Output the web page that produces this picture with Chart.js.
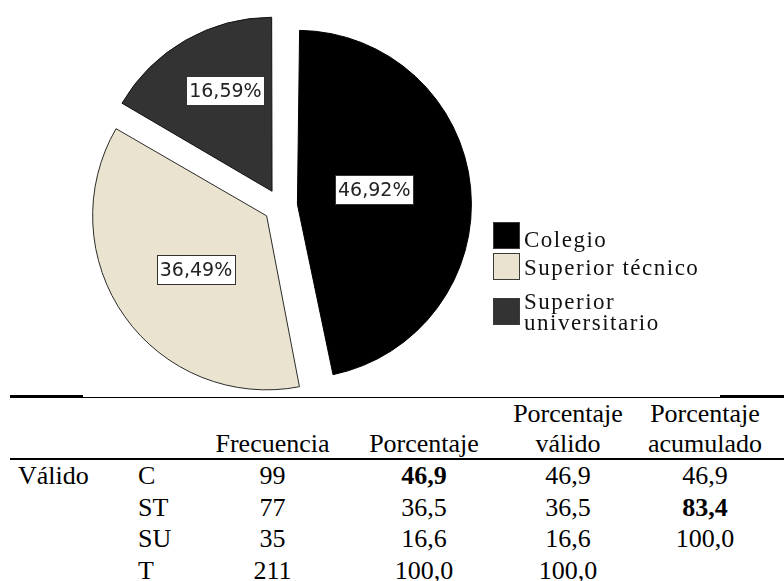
<!DOCTYPE html>
<html><head><meta charset="utf-8">
<script src="https://cdn.jsdelivr.net/npm/chart.js@4/dist/chart.umd.min.js"></script>
<style>
html,body{margin:0;padding:0;background:#fff;overflow:hidden;width:784px;height:581px;}
#wrap{position:relative;width:784px;height:581px;overflow:hidden;background:#fff;}
#pie{position:absolute;left:0;top:0;}
.t{position:absolute;white-space:nowrap;color:#000;}
.leg{color:#111;letter-spacing:1.5px;}
.ln{position:absolute;background:#000;}
.box{position:absolute;box-sizing:border-box;width:27px;height:27px;border:1px solid #3a3a3a;}
</style></head><body><div id="wrap"><canvas id="pie" width="784" height="394"></canvas></div>
<script>
// ---- data ----
const categories = ['Colegio', 'Superior técnico', 'Superior universitario'];
const rowCodes = ['C', 'ST', 'SU', 'T'];
const frequencies = [99, 77, 35, 211];
const pieFrequencies = [99, 77, 35];
const piePercentLabels = [46.92, 36.49, 16.59];
const percent = [46.9, 36.5, 16.6, 100.0];
const validPercent = [46.9, 36.5, 16.6, 100.0];
const cumulativePercent = [46.9, 83.4, 100.0, null];
const headerTop = ['', '', '', 'Porcentaje', 'Porcentaje'];
const headerBottom = ['', 'Frecuencia', 'Porcentaje', 'válido', 'acumulado'];
const groupLabel = 'Válido';

// ---- styles ----
const sliceColors = ['#000000', '#E9E3CF', '#333333'];
const sliceBorders = ['#000000', '#2a2a2a', '#111111'];
const boldCells = {'0-2': true, '1-4': true};
const labelPlace = [{f: 0.45, da: -5.6}, {f: 0.51, da: -1.8}, {f: 0.64, da: 5.1}];

const fmt = (v, d) => v.toFixed(d).replace('.', ',');
const wrap = document.getElementById('wrap');

function place(text, x, baseline, opts) {
  opts = opts || {};
  const fs = opts.fs || 26;
  const asc = opts.asc || 0.891, desc = opts.desc || 0.216;
  const lh = opts.lh || fs;
  const off = (lh - (asc + desc) * fs) / 2 + asc * fs;
  const d = document.createElement('div');
  d.className = 't' + (opts.cls ? ' ' + opts.cls : '');
  d.textContent = text;
  d.style.fontFamily = opts.fam || "'Liberation Serif', 'Times New Roman', serif";
  d.style.fontSize = fs + 'px';
  d.style.fontWeight = opts.bold ? 'bold' : 'normal';
  d.style.lineHeight = lh + 'px';
  d.style.top = (baseline - off) + 'px';
  if (opts.center) { d.style.left = (x - 100) + 'px'; d.style.width = '200px'; d.style.textAlign = 'center'; }
  else d.style.left = x + 'px';
  if (opts.width) { d.style.width = opts.width + 'px'; d.style.whiteSpace = 'normal'; }
  wrap.appendChild(d);
  return d;
}
function line(x, y, w, h) {
  const d = document.createElement('div');
  d.className = 'ln';
  Object.assign(d.style, {left: x + 'px', top: y + 'px', width: w + 'px', height: h + 'px'});
  wrap.appendChild(d);
}

// ---- table ----
line(10, 397, 774, 1);
line(10, 395, 73, 3);
line(720, 395, 64, 3);
line(10, 458, 774, 2);
const colX = [138, 272.5, 424, 568, 705];
headerTop.forEach((h, i) => { if (h) place(h, colX[i], 423, {center: true}); });
headerBottom.forEach((h, i) => { if (h) place(h, colX[i], 453, {center: true}); });
const rowBase = [485, 516.5, 548, 579.5];
place(groupLabel, 18, rowBase[0]);
rowCodes.forEach((c, r) => {
  const b = rowBase[r];
  place(c, colX[0], b);
  place(String(frequencies[r]), colX[1], b, {center: true});
  place(fmt(percent[r], 1), colX[2], b, {center: true, bold: boldCells[r + '-2']});
  place(fmt(validPercent[r], 1), colX[3], b, {center: true, bold: boldCells[r + '-3']});
  if (cumulativePercent[r] !== null) place(fmt(cumulativePercent[r], 1), colX[4], b, {center: true, bold: boldCells[r + '-4']});
});

// ---- legend ----
const legBoxTop = [222, 253, 298];
const legBase = [247, 275, 309];
categories.forEach((c, i) => {
  const b = document.createElement('div');
  b.className = 'box';
  b.style.left = '493px'; b.style.top = legBoxTop[i] + 'px';
  b.style.background = sliceColors[i];
  wrap.appendChild(b);
  place(c, 524, legBase[i], {fs: 23, cls: 'leg', lh: 21, width: 190});
});

// ---- pie ----
const explodeFix = {
  id: 'explodeFix',
  beforeDatasetsDraw(chart) {
    const meta = chart.getDatasetMeta(0);
    const R = meta.controller.outerRadius;
    meta.data.forEach(arc => {
      const off = (arc.options.offset || 0) / 4;
      const circ = arc.endAngle - arc.startAngle;
      const fix = 1 - Math.sin(Math.min(Math.PI, circ));
      arc.outerRadius = R - off * fix;
    });
  }
};
const sliceLabels = {
  id: 'sliceLabels',
  afterDatasetsDraw(chart) {
    const ctx = chart.ctx;
    const meta = chart.getDatasetMeta(0);
    const R = meta.controller.outerRadius;
    ctx.save();
    ctx.font = '19px "DejaVu Sans", sans-serif';
    ctx.textAlign = 'center';
    ctx.textBaseline = 'middle';
    meta.data.forEach((arc, i) => {
      const mid = (arc.startAngle + arc.endAngle) / 2;
      const shift = (arc.options.offset || 0) / 4;
      const ax = arc.x + Math.cos(mid) * shift, ay = arc.y + Math.sin(mid) * shift;
      const a = mid + labelPlace[i].da * Math.PI / 180;
      const d = labelPlace[i].f * R;
      const x = ax + Math.cos(a) * d, y = ay + Math.sin(a) * d;
      const txt = fmt(piePercentLabels[i], 2) + '%';
      const w = Math.round(ctx.measureText(txt).width + 6), h = 29;
      const bx = Math.round(x - w / 2) + 0.5, by = Math.round(y - h / 2) + 0.5;
      ctx.fillStyle = '#ffffff';
      ctx.fillRect(bx, by, w, h);
      ctx.strokeStyle = '#333333';
      ctx.lineWidth = 1;
      ctx.strokeRect(bx, by, w, h);
      ctx.fillStyle = '#222222';
      ctx.fillText(txt, x, y + 2);
    });
    ctx.restore();
  }
};
new Chart(document.getElementById('pie').getContext('2d'), {
  type: 'pie',
  data: {
    labels: categories,
    datasets: [{
      data: pieFrequencies,
      backgroundColor: sliceColors,
      borderColor: sliceBorders,
      borderWidth: 1,
      offset: 68,
      hoverOffset: 68,
      radius: 174
    }]
  },
  options: {
    responsive: false,
    animation: false,
    events: [],
    layout: {padding: {left: 0, right: 223, top: 18, bottom: 0}},
    plugins: {legend: {display: false}, tooltip: {enabled: false}}
  },
  plugins: [explodeFix, sliceLabels]
});
</script></body></html>
